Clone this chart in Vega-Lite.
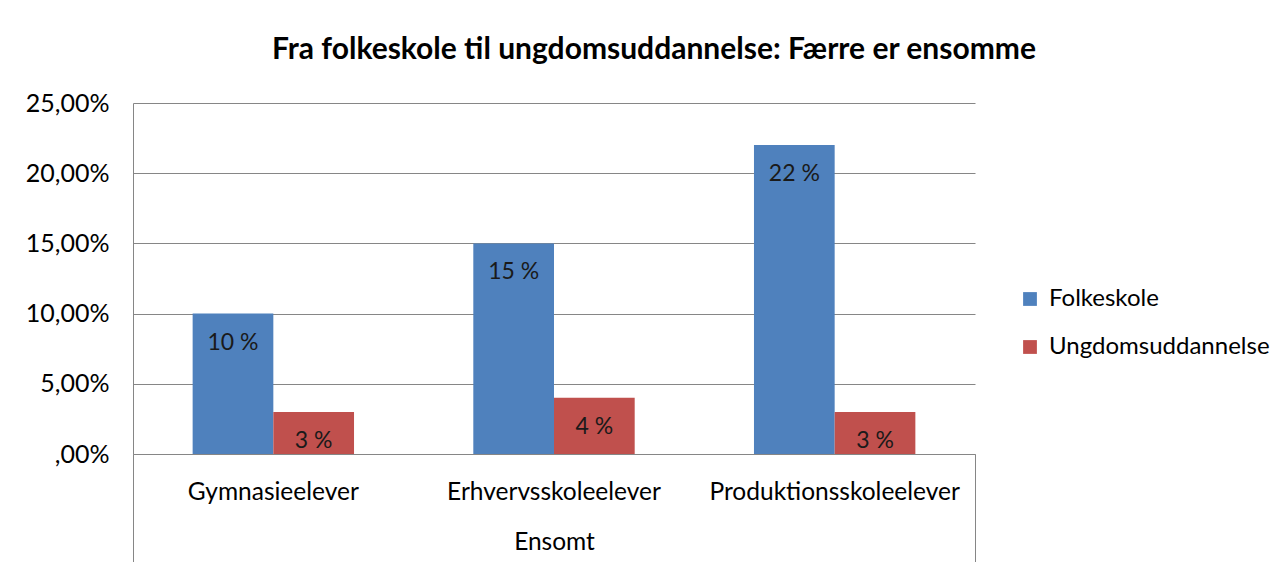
{
  "$schema": "https://vega.github.io/schema/vega-lite/v6.json",
  "autosize": {"type": "none"},
  "width": 842,
  "height": 351,
  "padding": {"left": 133, "top": 103, "right": 310, "bottom": 108},
  "background": "white",
  "title": {
    "text": "Fra folkeskole til ungdomsuddannelse: Færre er ensomme",
    "anchor": "middle",
    "dx": 100,
    "offset": 26,
    "font": "Lato",
    "fontSize": 30,
    "fontWeight": "bold",
    "color": "#000000"
  },
  "data": {
    "values": [
      {"kategori": "Gymnasieelever", "serie": "Folkeskole", "andel": 0.10, "label": "10 %"},
      {"kategori": "Gymnasieelever", "serie": "Ungdomsuddannelse", "andel": 0.03, "label": "3 %"},
      {"kategori": "Erhvervsskoleelever", "serie": "Folkeskole", "andel": 0.15, "label": "15 %"},
      {"kategori": "Erhvervsskoleelever", "serie": "Ungdomsuddannelse", "andel": 0.04, "label": "4 %"},
      {"kategori": "Produktionsskoleelever", "serie": "Folkeskole", "andel": 0.22, "label": "22 %"},
      {"kategori": "Produktionsskoleelever", "serie": "Ungdomsuddannelse", "andel": 0.03, "label": "3 %"}
    ]
  },
  "layer": [
    {
      "encoding": {
        "x": {
          "field": "kategori",
          "type": "nominal",
          "sort": ["Gymnasieelever", "Erhvervsskoleelever", "Produktionsskoleelever"],
          "scale": {"paddingInner": 0.425, "paddingOuter": 0.2125},
          "title": "Ensomt",
          "axis": {
            "orient": "bottom",
            "labelAngle": 0,
            "labelFont": "Lato",
            "labelFontSize": 24.5,
            "labelColor": "#000000",
            "labelLimit": 0,
            "labelPadding": 26,
            "ticks": false,
            "domainColor": "#868686",
            "titleFont": "Lato",
            "titleFontSize": 24.5,
            "titleFontWeight": "normal",
            "titleColor": "#000000",
            "titlePadding": 27
          }
        },
        "xOffset": {"field": "serie", "type": "nominal", "sort": ["Folkeskole", "Ungdomsuddannelse"]},
        "y": {
          "field": "andel",
          "type": "quantitative",
          "scale": {"domain": [0, 0.25], "nice": false},
          "title": null,
          "axis": {
            "values": [0, 0.05, 0.1, 0.15, 0.2, 0.25],
            "labelExpr": "datum.value == 0 ? ',00%' : replace(format(datum.value, '.2%'), '.', ',')",
            "labelFont": "Lato",
            "labelFontSize": 25,
            "labelColor": "#000000",
            "labelPadding": 24,
            "ticks": false,
            "domain": true,
            "domainColor": "#868686",
            "grid": true,
            "gridColor": "#868686",
            "gridWidth": 1
          }
        }
      },
      "layer": [
        {
          "mark": {"type": "bar"},
          "encoding": {
            "color": {
              "field": "serie",
              "type": "nominal",
              "scale": {"domain": ["Folkeskole", "Ungdomsuddannelse"], "range": ["#4F81BD", "#C0504D"]},
              "legend": {
                "title": null,
                "orient": "none",
                "legendX": 885,
                "legendY": 184,
                "symbolType": "square",
                "symbolSize": 190,
                "symbolStrokeWidth": 0,
                "labelFont": "Lato",
                "labelFontSize": 24,
                "labelColor": "#000000",
                "labelLimit": 0,
                "rowPadding": 24,
                "labelOffset": 7
              }
            }
          }
        },
        {
          "mark": {"type": "text", "font": "Lato", "fontSize": 23, "color": "#1a1a1a", "baseline": "middle", "align": "center"},
          "encoding": {
            "text": {"field": "label"},
            "yOffset": {"condition": {"test": "datum.andel < 0.035", "value": 16}, "value": 29}
          }
        }
      ]
    },
    {
      "mark": {"type": "rule", "opacity": 0},
      "encoding": {
        "x": {
          "datum": 0,
          "type": "quantitative",
          "scale": {"domain": [0, 1], "nice": false, "zero": false},
          "axis": {
            "orient": "bottom",
            "values": [0, 1],
            "labels": false,
            "domain": false,
            "grid": false,
            "ticks": true,
            "tickSize": 108,
            "tickColor": "#868686",
            "tickWidth": 1,
            "title": null
          }
        }
      }
    }
  ],
  "resolve": {"scale": {"x": "independent"}, "axis": {"x": "independent"}},
  "config": {
    "view": {"stroke": null}
  }
}
